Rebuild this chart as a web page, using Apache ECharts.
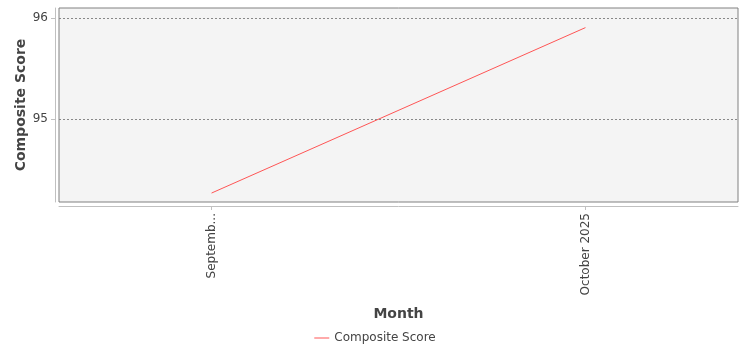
<!DOCTYPE html>
<html><head><meta charset="utf-8">
<script src="https://cdn.jsdelivr.net/npm/echarts@6/dist/echarts.min.js"></script>
<style>html,body{margin:0;padding:0;background:#fff}#c{width:750px;height:350px}</style>
</head><body><div id="c"></div>
<script>
const categories = ['September 2025', 'October 2025'];
const tickLabels = ['Septemb...', 'October 2025'];
const scoreValues = [94.262, 95.907];
const yTicks = [95, 96];

const font = 'DejaVu Sans';
const chart = echarts.init(document.getElementById('c'), null, {renderer: 'canvas'});
chart.setOption({
  animation: false,
  backgroundColor: '#ffffff',
  grid: {left: 59, right: 12, top: 8, bottom: 148, show: true, backgroundColor: '#f4f4f4', borderColor: '#808080', borderWidth: 1, containLabel: false, outerBoundsMode: 'none'},
  legend: {
    bottom: 1, left: 'center', itemWidth: 15, itemHeight: 1, itemGap: 10, icon: 'rect',
    textStyle: {fontFamily: font, fontSize: 12, color: '#444'},
    data: ['Composite Score']
  },
  xAxis: {
    type: 'value', min: -0.408, max: 1.408,
    offset: 4,
    name: 'Month', nameLocation: 'middle', nameGap: 101, nameMoveOverlap: false,
    nameTextStyle: {fontFamily: font, fontSize: 14, fontWeight: 'bold', color: '#444'},
    axisLine: {show: true, onZero: false, lineStyle: {color: '#c0c0c0'}},
    axisTick: {show: true, length: 4, lineStyle: {color: '#c0c0c0'}, customValues: categories.map((c, i) => i)},
    axisLabel: {rotate: 90, margin: 7, fontFamily: font, fontSize: 12, color: '#444',
      customValues: categories.map((c, i) => i),
      formatter: v => tickLabels[Math.round(v)] ?? ''},
    splitLine: {show: false}
  },
  yAxis: {
    type: 'value', min: 94.173, max: 96.102,
    offset: 4,
    name: 'Composite Score', nameLocation: 'middle', nameGap: 27, nameMoveOverlap: false,
    nameTextStyle: {fontFamily: font, fontSize: 14, fontWeight: 'bold', color: '#444'},
    axisLine: {show: true, onZero: false, lineStyle: {color: '#c0c0c0'}},
    axisTick: {show: true, length: 4, lineStyle: {color: '#c0c0c0'}, customValues: yTicks},
    axisLabel: {margin: 7, fontFamily: font, fontSize: 12, color: '#444', customValues: yTicks,
      formatter: v => String(Math.round(v))},
    splitLine: {show: false}
  },
  series: [{
    name: 'Composite Score', type: 'line', symbol: 'none',
    data: scoreValues.map((v, i) => [i, v]),
    lineStyle: {color: '#ff5555', width: 1},
    itemStyle: {color: '#ff5555'},
    markLine: {
      silent: true, symbol: 'none', label: {show: false},
      lineStyle: {type: [2, 2], color: '#888', width: 1},
      data: yTicks.map(t => ({yAxis: t}))
    }
  }]
});
</script></body></html>
